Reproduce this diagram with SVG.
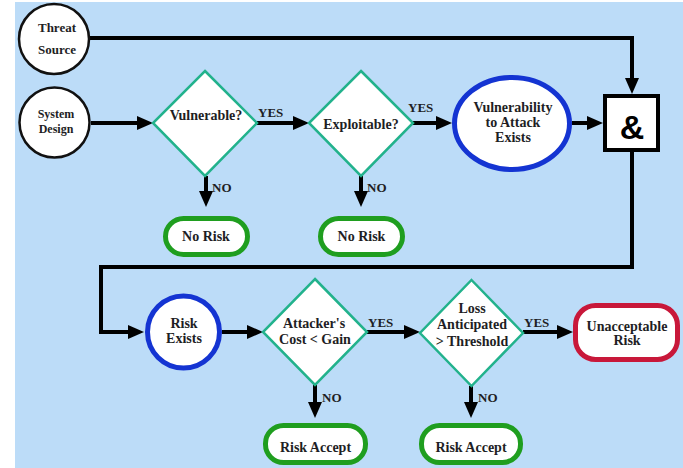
<svg xmlns="http://www.w3.org/2000/svg" width="683" height="468" viewBox="0 0 683 468">
  <style>
    .bg { fill: #bcdcf8; }
    .term { fill: #ffffff; stroke: #111111; stroke-width: 2.5; }
    .dec { fill: #ffffff; stroke: #22b28c; stroke-width: 2.5; stroke-linejoin: miter; }
    .state { fill: #ffffff; stroke: #1434d2; stroke-width: 5; }
    .ok { fill: #ffffff; stroke: #1f9e1f; stroke-width: 5; }
    .bad { fill: #ffffff; stroke: #c8183a; stroke-width: 5; }
    .gate { fill: #ffffff; stroke: #000000; stroke-width: 4; }
    .lbl { font-family: "Liberation Serif", "DejaVu Serif", serif; font-weight: bold; font-size: 14px; fill: #1e1e24; text-anchor: middle; }
    .sm { font-size: 13px; }
    .xs { font-size: 12px; }
    .edge { font-family: "Liberation Serif", "DejaVu Serif", serif; font-weight: bold; font-size: 13px; fill: #1e1e24; }
    .amp { font-family: "Liberation Sans", Arial, sans-serif; font-weight: bold; font-size: 34px; fill: #000000; text-anchor: middle; }
    .wire { fill: none; stroke: #000000; stroke-width: 4; marker-end: url(#head); }
  </style>
  <defs>
    <marker id="head" markerUnits="userSpaceOnUse" markerWidth="16" markerHeight="14" refX="8" refY="7" orient="auto">
      <path d="M0,0 L16,7 L0,14 z" fill="#000000"/>
    </marker>
  </defs>

  <rect class="bg" x="15" y="2" width="668" height="466"/>

  <!-- connectors and their YES / NO labels -->
  <g id="connectors">
    <path class="wire" d="M89,38 H632 V86"/>
    <path class="wire" d="M91,123 H145"/>
    <path class="wire" d="M257,123 H301"/>
    <path class="wire" d="M413,123 H444"/>
    <path class="wire" d="M572,123 H595"/>
    <path class="wire" d="M206,176 V199"/>
    <path class="wire" d="M361,176 V199"/>
    <path class="wire" d="M632,152 V267 H101 V332 H136"/>
    <path class="wire" d="M222,332 H255"/>
    <path class="wire" d="M367,332 H412"/>
    <path class="wire" d="M523,332 H565"/>
    <path class="wire" d="M315,385 V410"/>
    <path class="wire" d="M471,386 V410"/>
    <text class="edge" x="258" y="117">YES</text>
    <text class="edge" x="408" y="112">YES</text>
    <text class="edge" x="368" y="327">YES</text>
    <text class="edge" x="524" y="327">YES</text>
    <text class="edge" x="212" y="192">NO</text>
    <text class="edge" x="367" y="192">NO</text>
    <text class="edge" x="322" y="402">NO</text>
    <text class="edge" x="478" y="402">NO</text>
  </g>

  <g id="threat-source">
    <circle class="term" cx="54" cy="39" r="35"/>
    <text class="lbl sm" x="57" y="32">Threat</text>
    <text class="lbl sm" x="57" y="54">Source</text>
  </g>

  <g id="system-design">
    <circle class="term" cx="54.5" cy="122.5" r="35"/>
    <text class="lbl xs" x="56" y="118">System</text>
    <text class="lbl xs" x="56" y="133">Design</text>
  </g>

  <g id="vulnerable">
    <polygon class="dec" points="205,71 257,123 205,176 153,123"/>
    <text class="lbl" x="206" y="120">Vulnerable?</text>
  </g>

  <g id="exploitable">
    <polygon class="dec" points="361,71 413,123 361,176 309,123"/>
    <text class="lbl" x="361" y="129">Exploitable?</text>
  </g>

  <g id="vulnerability-exists">
    <ellipse class="state" cx="512" cy="123.5" rx="57.5" ry="46"/>
    <text class="lbl" x="513" y="112">Vulnerability</text>
    <text class="lbl" x="513" y="127">to Attack</text>
    <text class="lbl" x="513" y="142">Exists</text>
  </g>

  <g id="and-gate">
    <rect class="gate" x="605" y="96" width="53" height="54"/>
    <text class="amp" x="632" y="139">&amp;</text>
  </g>

  <g id="no-risk-1">
    <rect class="ok" x="165.5" y="218.5" width="82" height="36" rx="18"/>
    <text class="lbl" x="206" y="241">No Risk</text>
  </g>

  <g id="no-risk-2">
    <rect class="ok" x="320.5" y="218.5" width="82" height="36" rx="18"/>
    <text class="lbl" x="361.5" y="241">No Risk</text>
  </g>

  <g id="risk-exists">
    <circle class="state" cx="183.5" cy="332" r="36"/>
    <text class="lbl" x="184" y="328">Risk</text>
    <text class="lbl" x="184" y="343">Exists</text>
  </g>

  <g id="cost-gain">
    <polygon class="dec" points="315,279 367,332 315,385 263,332"/>
    <text class="lbl" x="314" y="328">Attacker's</text>
    <text class="lbl" x="315" y="344">Cost &lt; Gain</text>
  </g>

  <g id="loss-threshold">
    <polygon class="dec" points="471.5,280 523,333 471.5,386 420,333"/>
    <text class="lbl" x="472" y="313">Loss</text>
    <text class="lbl" x="472" y="329">Anticipated</text>
    <text class="lbl" x="472" y="346">&gt; Threshold</text>
  </g>

  <g id="unacceptable-risk">
    <rect class="bad" x="575.5" y="305.5" width="102" height="54" rx="20"/>
    <text class="lbl" x="627" y="331">Unacceptable</text>
    <text class="lbl" x="627" y="345">Risk</text>
  </g>

  <g id="risk-accept-1">
    <rect class="ok" x="265.5" y="425.5" width="100" height="37" rx="18"/>
    <text class="lbl" x="315.5" y="452">Risk Accept</text>
  </g>

  <g id="risk-accept-2">
    <rect class="ok" x="421.5" y="425.5" width="99" height="37" rx="18"/>
    <text class="lbl" x="471" y="452">Risk Accept</text>
  </g>
</svg>
